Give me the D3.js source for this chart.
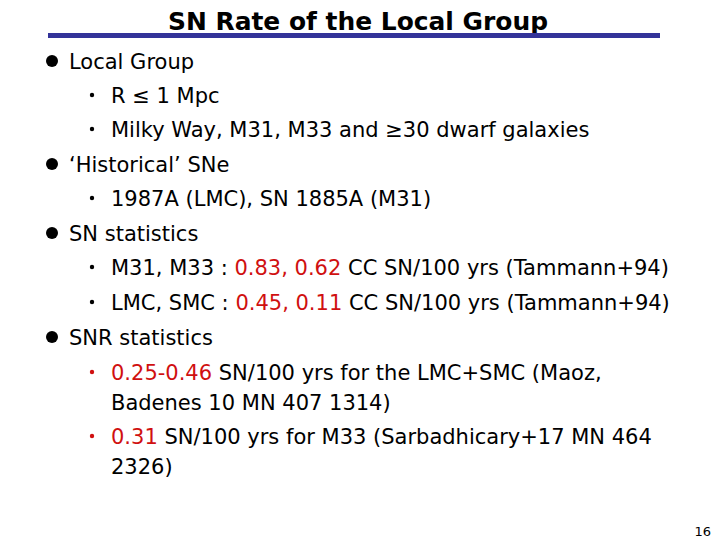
<!DOCTYPE html>
<html><head><meta charset="utf-8">
<script src="https://cdn.jsdelivr.net/npm/d3@7"></script>
<style>body{margin:0;background:#fff}svg{display:block}</style>
</head><body><svg width="720" height="540"></svg>
<script>
const title = "SN Rate of the Local Group";
const pageNo = "16";
// each line: [level, [[text, isRed], ...]]
const lines = [
  [1, [["Local Group", 0]]],
  [2, [["R ≤ 1 Mpc", 0]]],
  [2, [["Milky Way, M31, M33 and ≥30 dwarf galaxies", 0]]],
  [1, [["‘Historical’ SNe", 0]]],
  [2, [["1987A (LMC), SN 1885A (M31)", 0]]],
  [1, [["SN statistics", 0]]],
  [2, [["M31, M33 : ", 0], ["0.83, 0.62", 1], [" CC SN/100 yrs (Tammann+94)", 0]]],
  [2, [["LMC, SMC : ", 0], ["0.45, 0.11", 1], [" CC SN/100 yrs (Tammann+94)", 0]]],
  [1, [["SNR statistics", 0]]],
  [3, [["0.25-0.46", 1], [" SN/100 yrs for the LMC+SMC (Maoz,", 0]]],
  [0, [["Badenes 10 MN 407 1314)", 0]]],
  [3, [["0.31", 1], [" SN/100 yrs for M33 (Sarbadhicary+17 MN 464", 0]]],
  [0, [["2326)", 0]]]
];
const baselines = [69, 103, 137, 172, 206, 241, 275, 310, 345, 380, 410, 444, 474];

const svg = d3.select("svg");
const font = "'DejaVu Sans', sans-serif";
const red = "#d01010";

svg.append("text").attr("x", 358).attr("y", 30).attr("text-anchor", "middle")
  .attr("font-family", font).attr("font-weight", "bold").attr("font-size", 24)
  .attr("textLength", 380).attr("lengthAdjust", "spacingAndGlyphs")
  .text(title);
svg.append("rect").attr("x", 48).attr("y", 33).attr("width", 612).attr("height", 5).attr("fill", "#333399");

const g = svg.selectAll("g.line").data(lines).enter().append("g")
  .attr("transform", (d, i) => `translate(0,${baselines[i]})`);

g.filter(d => d[0] === 1).append("circle").attr("cx", 52).attr("cy", -8).attr("r", 6).attr("fill", "#000");
g.filter(d => d[0] === 2 || d[0] === 3).append("circle").attr("cx", 92).attr("cy", -8).attr("r", 2.2)
  .attr("fill", d => d[0] === 3 ? red : "#000");

g.append("text")
  .attr("x", d => d[0] === 1 ? 69 : 111)
  .attr("font-family", font).attr("font-size", 21)
  .selectAll("tspan").data(d => d[1]).enter().append("tspan")
  .attr("fill", d => d[1] ? red : "#000")
  .attr("xml:space", "preserve")
  .style("white-space", "pre")
  .text(d => d[0]);

svg.append("text").attr("x", 711).attr("y", 536).attr("text-anchor", "end")
  .attr("font-family", font).attr("font-size", 13).text(pageNo);
</script></body></html>
